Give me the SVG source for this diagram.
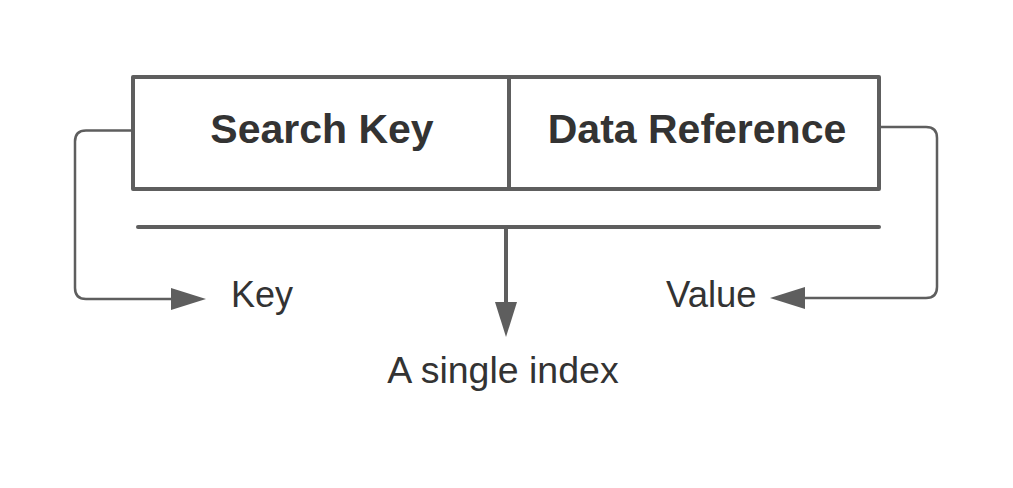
<svg xmlns="http://www.w3.org/2000/svg" width="1013" height="488" viewBox="0 0 1013 488">
  <defs>
    <style>
      .box { fill: none; stroke: #5e5e5e; stroke-width: 4; stroke-linecap: round; stroke-linejoin: round; }
      .conn { fill: none; stroke: #5e5e5e; stroke-width: 2.5; }
      .thick { fill: none; stroke: #5e5e5e; stroke-width: 4; stroke-linecap: round; }
      .head { fill: #5e5e5e; stroke: none; }
      .title { font-family: "Liberation Sans", Arial, sans-serif; font-weight: bold; font-size: 41px; fill: #333333; text-anchor: middle; }
      .label { font-family: "Liberation Sans", Arial, sans-serif; font-size: 36px; fill: #333333; }
    </style>
  </defs>
  <rect width="1013" height="488" fill="#ffffff"/>
  <g id="record">
    <rect class="box" x="133" y="77" width="746" height="112"/>
    <line class="box" x1="509" y1="77" x2="509" y2="187"/>
    <text class="title" x="322" y="143">Search Key</text>
    <text class="title" x="697" y="143">Data Reference</text>
  </g>
  <g id="index-line">
    <line class="thick" x1="138" y1="227" x2="879" y2="227"/>
  </g>
  <g id="key">
    <text class="label" x="231" y="307">Key</text>
  </g>
  <g id="value">
    <text class="label" x="666" y="307" style="font-size:36.5px">Value</text>
  </g>
  <g id="single-index">
    <text class="label" x="503" y="383" text-anchor="middle" style="font-size:37.5px">A single index</text>
  </g>
  <g id="connectors">
    <path class="conn" d="M133 130.5 H86 Q75 130.5 75 141.5 V288 Q75 299 86 299 H175"/>
    <polygon class="head" points="171,288 206,299 171,310"/>
    <path class="conn" d="M879 127 H926 Q937 127 937 138 V287 Q937 298 926 298 H802"/>
    <polygon class="head" points="805,287 770,298 805,309"/>
    <line class="thick" x1="506" y1="229" x2="506" y2="305" stroke-linecap="butt"/>
    <polygon class="head" points="495,302 506,337 517,302"/>
  </g>
</svg>
